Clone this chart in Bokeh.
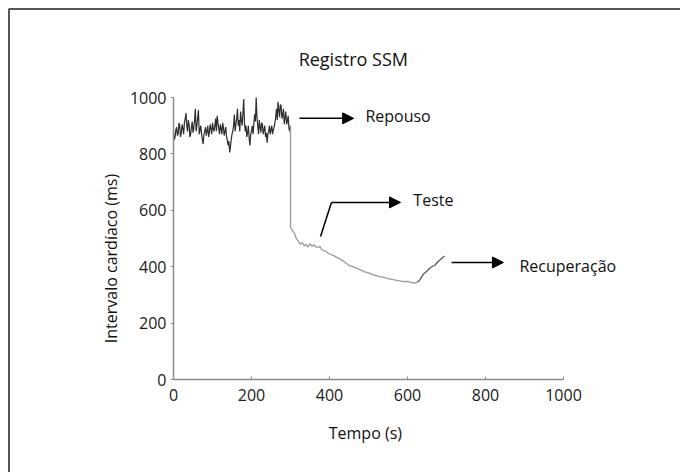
from bokeh.plotting import figure
from bokeh.models import Range1d, Label, Arrow, NormalHead, FixedTicker, LinearAxis, BoxAnnotation
from bokeh.embed import file_html
from bokeh.resources import INLINE
from bokeh.core.properties import value
import math

# ---- data ----
rest_t = [0, 2, 4, 6, 8, 10, 12, 14, 16, 18,
          20, 22, 24, 26, 28, 30, 32, 34, 36, 38,
          40, 42, 44, 46, 48, 50, 52, 54, 56, 58,
          60, 62, 64, 66, 68, 70, 72, 74, 76, 78,
          80, 82, 84, 86, 88, 90, 92, 94, 96, 98,
          100, 102, 104, 106, 108, 110, 112, 114, 116, 118,
          120, 122, 124, 126, 128, 130, 132, 134, 136, 138,
          140, 142, 144, 146, 148, 150, 152, 154, 156, 158,
          160, 162, 164, 166, 168, 170, 172, 174, 176, 178,
          180, 182, 184, 186, 188, 190, 192, 194, 196, 198,
          200, 202, 204, 206, 208, 210, 212, 214, 216, 218,
          220, 222, 224, 226, 228, 230, 232, 234, 236, 238,
          240, 242, 244, 246, 248, 250, 252, 254, 256, 258,
          260, 262, 264, 266, 268, 270, 272, 274, 276, 278,
          280, 282, 284, 286, 288, 290, 292, 294, 296, 298,
          300]
rest_rr = [880, 850, 860, 885, 895, 865, 870, 910, 900, 860,
           875, 905, 890, 870, 910, 925, 945, 900, 880, 920,
           905, 860, 870, 895, 915, 875, 890, 920, 960, 880,
           900, 930, 955, 870, 885, 900, 870, 850, 835, 870,
           880, 895, 865, 880, 900, 860, 875, 905, 890, 870,
           910, 890, 880, 900, 925, 880, 935, 910, 890, 870,
           905, 890, 870, 910, 895, 865, 880, 895, 860, 850,
           830, 845, 805, 825, 850, 870, 880, 900, 940, 880,
           905, 925, 960, 900, 920, 880, 950, 920, 900, 945,
           995, 910, 880, 900, 860, 875, 900, 855, 830, 870,
           880, 900, 870, 905, 940, 915, 1000, 930, 900, 870,
           920, 895, 875, 910, 905, 870, 885, 900, 860, 875,
           840, 870, 880, 900, 870, 885, 900, 870, 885, 895,
           910, 930, 960, 920, 985, 955, 930, 975, 970, 925,
           940, 960, 905, 930, 950, 905, 915, 935, 890, 880,
           900]

test_t = [300, 300, 305, 310, 315, 320, 325, 330, 335, 340, 345, 350, 355, 360, 365, 370, 375, 380, 390, 400,
          410, 420, 430, 440, 450, 460, 470, 480, 490, 500, 510, 520, 530, 540, 550, 560, 570, 580, 590, 600,
          610, 620, 625]
test_rr = [900, 540, 528, 520, 500, 490, 480, 485, 475, 478, 470, 482, 472, 478, 470, 468, 472, 460, 455, 445,
           440, 432, 425, 415, 405, 400, 395, 388, 382, 378, 372, 368, 364, 362, 358, 355, 352, 350, 347, 348,
           344, 342, 345]

rec_t = [625, 630, 640, 650, 660, 670, 680, 690, 695]
rec_rr = [345, 350, 372, 385, 398, 405, 420, 432, 438]

x_ticks = [0, 200, 400, 600, 800, 1000]
y_ticks = [0, 200, 400, 600, 800, 1000]

title_text = "Registro SSM"
x_label = "Tempo (s)"
y_label = "Intervalo cardíaco (ms)"
phase_labels = ["Repouso", "Teste", "Recuperação"]

# annotation placement (data units)
phase_label_x = [492, 615, 887]
phase_label_y = [933, 635, 404]

FONT = "Open Sans"
W, H = 680, 472
# pixel layout of the axes box within the canvas
AX_L, AX_R, AX_T, AX_B = 173.0, 563.0, 97.0, 379.0
sx = (AX_R - AX_L) / 1000.0
sy = (AX_B - AX_T) / 1000.0
x_range = Range1d(-AX_L / sx, (W - AX_L) / sx)
y_range = Range1d(-(H - AX_B) / sy, AX_B / sy)

p = figure(width=W, height=H, output_backend="svg", toolbar_location=None,
           x_range=x_range, y_range=y_range,
           x_axis_location=None, y_axis_location=None, min_border=0)
p.outline_line_color = None
p.xgrid.visible = False
p.ygrid.visible = False
p.background_fill_color = "white"
p.border_fill_color = "white"

xaxis = LinearAxis(fixed_location=0, bounds=(0, 1000), ticker=FixedTicker(ticks=x_ticks))
yaxis = LinearAxis(fixed_location=0, bounds=(0, 1000), ticker=FixedTicker(ticks=y_ticks))
p.add_layout(xaxis, "below")
p.add_layout(yaxis, "left")

for ax in (xaxis, yaxis):
    ax.axis_line_color = "#8c8c8c"
    ax.axis_line_width = 1.5
    ax.major_tick_line_color = "#8c8c8c"
    ax.minor_tick_line_color = None
    ax.major_label_text_font = FONT
    ax.major_label_text_font_size = "16px"
    ax.major_label_text_color = "#1a1a1a"

xaxis.major_tick_in = 3
xaxis.major_tick_out = 0
yaxis.major_tick_in = 0
yaxis.major_tick_out = 3
xaxis.major_label_standoff = 9
yaxis.major_label_standoff = 4

# outer frame (left and top edges visible)
p.add_layout(BoxAnnotation(left=-(AX_L - 8.5) / sx, top=(AX_B - 8.5) / sy,
                           right=5000, bottom=-5000,
                           fill_color=None, fill_alpha=0,
                           line_color="#555555", line_width=2, line_alpha=1))

p.line(rest_t, rest_rr, line_color="#2e2e2e", line_width=1.2)
p.line(test_t, test_rr, line_color="#9a9a9a", line_width=1.3)
p.line(rec_t, rec_rr, line_color="#5a5a5a", line_width=1.3)

p.text(x=phase_label_x, y=phase_label_y, text=phase_labels, text_font=value(FONT),
       text_font_size="16px", text_color="#111111", text_baseline="middle", text_align="left")

# arrows
head = dict(size=11, fill_color="black", line_color="black")
p.add_layout(Arrow(end=NormalHead(**head), x_start=323, y_start=926, x_end=462, y_end=926,
                   line_color="black", line_width=1.5))
p.line([377, 405], [507, 628], line_color="black", line_width=1.5)
p.add_layout(Arrow(end=NormalHead(**head), x_start=405, y_start=628, x_end=582, y_end=628,
                   line_color="black", line_width=1.5))
p.add_layout(Arrow(end=NormalHead(**head), x_start=713, y_start=415, x_end=846, y_end=415,
                   line_color="black", line_width=1.5))

p.add_layout(Label(x=461, y=1138, text=title_text, text_font=FONT, text_font_size="18px",
                   text_color="#111111", text_align="center", text_baseline="middle"))
p.add_layout(Label(x=-159, y=429, text=y_label, text_font=FONT, text_font_size="16px",
                   text_color="#111111", text_align="center", text_baseline="middle",
                   angle=math.pi / 2))
p.add_layout(Label(x=492, y=-191, text=x_label, text_font=FONT, text_font_size="16px",
                   text_color="#111111", text_align="center", text_baseline="middle"))

open("out.html", "w").write(file_html(p, INLINE))
